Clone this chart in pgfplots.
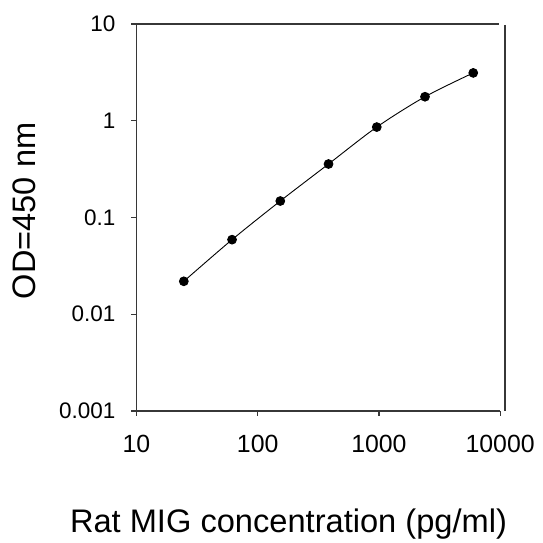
\documentclass[border=0pt]{standalone}
\usepackage{pgfplots}
\pgfplotsset{compat=1.18}
\usepackage{fontspec}
\setmainfont{Liberation Sans}
\definecolor{axgray}{RGB}{55,55,55}
\begin{document}
\begin{tikzpicture}
\begin{axis}[
  scale only axis,
  width=364.3bp, height=387.7bp,
  xmode=log, ymode=log,
  xmin=10, xmax=10000, ymin=0.001, ymax=10,
  axis x line*=bottom, axis y line*=left,
  axis line style={axgray, line width=1.5bp},
  tick style={axgray, line width=1.2bp},
  tick align=outside,
  major tick length=5bp,
  xminorticks=false, yminorticks=false,
  xtick={10,100,1000,10000},
  xticklabels={10,100,1000,10000},
  ytick={0.001,0.01,0.1,1,10},
  yticklabels={0.001,0.01,0.1,1,10},
  yticklabel style={font=\fontsize{22.6}{26}\selectfont, text=black, anchor=east, inner sep=0pt, xshift=-16bp},
  xticklabel style={font=\fontsize{25}{29}\selectfont, text=black, anchor=north, inner sep=0pt, yshift=-19bp},
  xlabel={Rat MIG concentration (pg/ml)},
  ylabel={OD=450 nm},
  xlabel style={font=\fontsize{32.8}{38}\selectfont, at={(axis description cs:0.418,-0.315)}, anchor=base},
  ylabel style={font=\fontsize{32.7}{38}\selectfont, at={(axis description cs:-0.2764,0.517)}, anchor=base, rotate=0},
  clip=false,
]
\addplot[black, line width=0.9bp, smooth, mark=*, mark size=4.4bp,
  mark options={fill=black, draw=black}]
  coordinates {
  (24.58,0.0219)
  (61.44,0.059)
  (153.6,0.148)
  (384,0.357)
  (960,0.86)
  (2400,1.77)
  (6000,3.12)
  };
\coordinate (O) at (rel axis cs:0,0);
\coordinate (TL) at (axis cs:10,10);
\coordinate (TR) at (axis cs:10000,10);
\coordinate (BR) at (axis cs:10000,0.001);
\end{axis}
\draw[axgray, line width=1.5bp] ([xshift=-5bp]TL) -- ([xshift=-1bp]TR);
\draw[axgray, line width=1.5bp] ([xshift=4.7bp,yshift=-1bp]TR) -- ([xshift=4.7bp]BR);
\path (O) ++(-136.7bp,-119.3bp) rectangle ++(543bp,531bp);
\end{tikzpicture}
\end{document}
